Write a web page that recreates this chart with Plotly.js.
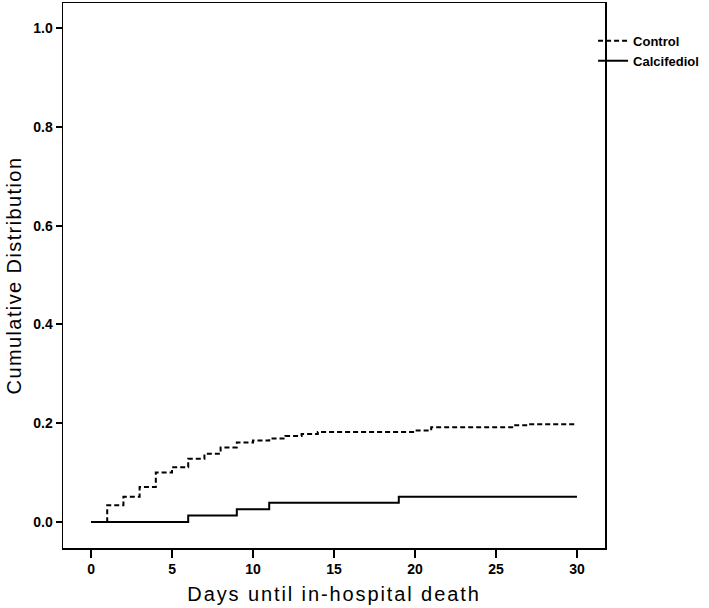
<!DOCTYPE html>
<html>
<head>
<meta charset="utf-8">
<script src="https://cdn.plot.ly/plotly-3.0.1.min.js"></script>
<style>
  html, body { margin: 0; padding: 0; background: #fff; }
  #chart { width: 709px; height: 608px; }
  .xtitle { letter-spacing: 1.9px; }
  .ytitle { letter-spacing: 1.4px; }
</style>
</head>
<body>
<div id="chart"></div>
<script>
// Days at which each cumulative curve steps, and the cumulative value reached
const controlDays   = [0, 1, 2, 3, 4, 5, 6, 7, 8, 9, 10, 11, 12, 13, 14, 20, 21, 26, 27, 30];
const controlValues = [0, 0.034, 0.051, 0.071, 0.100, 0.111, 0.128, 0.138, 0.151, 0.161, 0.165, 0.169, 0.174, 0.178, 0.182, 0.185, 0.192, 0.196, 0.198, 0.198];

const calciDays   = [0, 6, 9, 11, 19, 30];
const calciValues = [0, 0.013, 0.026, 0.039, 0.051, 0.051];

const xTicks = [0, 5, 10, 15, 20, 25, 30];
const yTicks = [0.0, 0.2, 0.4, 0.6, 0.8, 1.0];

const seriesNames = ["Control", "Calcifediol"];

const traces = [
  {
    x: controlDays, y: controlValues, name: seriesNames[0],
    mode: "lines", line: { shape: "hv", color: "#000", width: 2, dash: "5px,3px" },
    hoverinfo: "x+y"
  },
  {
    x: calciDays, y: calciValues, name: seriesNames[1],
    mode: "lines", line: { shape: "hv", color: "#000", width: 2 },
    hoverinfo: "x+y"
  }
];

const tickFont = { family: "Liberation Sans, Arial, sans-serif", size: 14, color: "#000", weight: "bold" };

const layout = {
  width: 709, height: 608,
  margin: { l: 63, r: 104, t: 3, b: 60, pad: 0 },
  paper_bgcolor: "#fff", plot_bgcolor: "#fff",
  showlegend: true,
  legend: {
    x: 0.978, xanchor: "left", y: 0.958, yanchor: "top",
    font: { family: "Liberation Sans, Arial, sans-serif", size: 13, color: "#000", weight: "bold" },
    itemwidth: 30, tracegroupgap: 0, bgcolor: "rgba(0,0,0,0)"
  },
  xaxis: {
    range: [-1.73, 31.73],
    tickvals: xTicks, ticktext: xTicks.map(String),
    ticks: "outside", ticklen: 8, tickwidth: 2, tickcolor: "#000",
    showline: true, mirror: true, linecolor: "#000", linewidth: 1.5,
    showgrid: false, zeroline: false,
    tickfont: tickFont,
    title: { text: "Days until in-hospital death", font: { family: "Liberation Sans, Arial, sans-serif", size: 20, color: "#000" }, standoff: 10 }
  },
  yaxis: {
    range: [-0.0526, 1.0506],
    tickvals: yTicks, ticktext: yTicks.map(v => v.toFixed(1)),
    ticks: "outside", ticklen: 6, tickwidth: 2, tickcolor: "#000",
    showline: true, mirror: true, linecolor: "#000", linewidth: 1.5,
    showgrid: false, zeroline: false,
    tickfont: tickFont,
    title: { text: "Cumulative Distribution", font: { family: "Liberation Sans, Arial, sans-serif", size: 20, color: "#000" }, standoff: 6 }
  }
};

Plotly.newPlot("chart", traces, layout, { displayModeBar: false, staticPlot: true });
</script>
</body>
</html>
